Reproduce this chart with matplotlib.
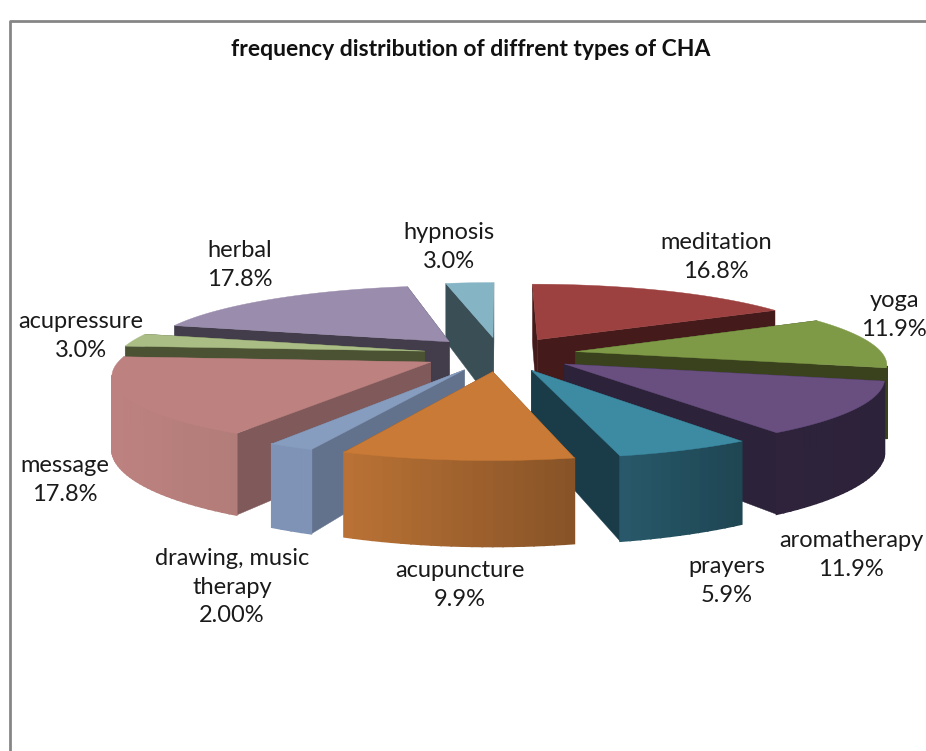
# frequency distribution of CHA types - exploded 3D pie
import numpy as np
import matplotlib
matplotlib.use("Agg")
import matplotlib.pyplot as plt

categorias = ["meditation", "yoga", "aromatherapy", "prayers", "acupuncture",
              "drawing, music\ntherapy", "message", "acupressure", "herbal", "hypnosis"]
valores = [16.8, 11.9, 11.9, 5.9, 9.9, 2.0, 17.8, 3.0, 17.8, 3.0]
etiquetas_pct = ["16.8%", "11.9%", "11.9%", "5.9%", "9.9%", "2.00%", "17.8%", "3.0%", "17.8%", "3.0%"]

# estilo por porcion: tapa, cara radial, pared izquierda/derecha en pantalla
col_tapa = ["#9C4040", "#7E9A47", "#684F80", "#3D8AA3", "#C97A36",
            "#879DBF", "#BD8280", "#AABD85", "#9A8CAD", "#85B4C5"]
col_cara = ["#451A1A", "#3A421D", "#2C2239", "#1A3C49", "#7A4A22",
            "#63728C", "#80595A", "#4A5233", "#423C4B", "#3A4E56"]
col_pared = [("#451A1A", "#451A1A"), ("#3A421D", "#3A421D"), ("#2E233B", "#2C2239"),
             ("#28596A", "#1E4552"), ("#BA7235", "#875327"), ("#7E93B5", "#7E93B5"),
             ("#BD8280", "#B27C78"), ("#4A5233", "#4A5233"), ("#423C4B", "#423C4B"),
             ("#3A4E56", "#3A4E56")]
pos_etiqueta = [(716, 257), (894, 315), (851, 555), (727, 581), (460, 585),
                (232, 587), (65, 480), (81, 336), (240, 265), (449, 247)]
orden = [0, 9, 8, 7, 1, 6, 2, 5, 3, 4]  # de atras hacia adelante

# camara
cx, cy = 500.0, 354.0
k, incl, persp = 307.0, 0.223, 0.158
alto = 69.0
explosion = 0.25


def proyectar(x, y, z=0.0):
    s = 1.0 / (1.0 - persp * y)
    return cx + k * x * s, cy + k * incl * y * s + alto * z * s


def area(p):
    p = np.array(p)
    a, b = p[:, 0], p[:, 1]
    return 0.5 * np.sum(a * np.roll(b, -1) - np.roll(a, -1) * b)


def mezcla(c1, c2, t):
    a = np.array(matplotlib.colors.to_rgb(c1))
    b = np.array(matplotlib.colors.to_rgb(c2))
    return a + (b - a) * t


fig = plt.figure(figsize=(9.26, 7.51), dpi=100)
ax = fig.add_axes([0, 0, 1, 1])
ax.set_xlim(0, 926)
ax.set_ylim(751, 0)
ax.axis("off")

# marco del grafico
ax.plot([9.5, 9.5, 926], [751, 21, 21], color="#868686", lw=2.0)

fracciones = np.array(valores) / np.sum(valores) * 2 * np.pi
inicios = np.concatenate([[0], np.cumsum(fracciones)[:-1]])

for n, i in enumerate(orden):
    t0, t1 = inicios[i], inicios[i] + fracciones[i]
    medio = (t0 + t1) / 2
    ax0, ay0 = explosion * np.sin(medio), -explosion * np.cos(medio)
    angulos = np.linspace(t0, t1, max(int(fracciones[i] * 40), 4))
    xs = ax0 + np.sin(angulos)
    ys = ay0 - np.cos(angulos)

    # caras radiales
    for xb, yb in [(xs[0], ys[0]), (xs[-1], ys[-1])]:
        cara = [proyectar(ax0, ay0), proyectar(xb, yb), proyectar(xb, yb, 1), proyectar(ax0, ay0, 1)]
        ax.fill(*zip(*cara), color=col_cara[i], lw=0.3, zorder=n * 10 + 1)

    # pared exterior, solo lo que mira a la camara
    arco = [proyectar(a, b) for a, b in zip(xs, ys)]
    xmin, xmax = min(p[0] for p in arco), max(p[0] for p in arco)
    for j in range(len(xs) - 1):
        quad = [proyectar(xs[j], ys[j]), proyectar(xs[j + 1], ys[j + 1]),
                proyectar(xs[j + 1], ys[j + 1], 1), proyectar(xs[j], ys[j], 1)]
        if area(quad) > 0:
            continue
        t = ((quad[0][0] + quad[1][0]) / 2 - xmin) / max(xmax - xmin, 1)
        # un poco de borde para que no se vean costuras
        ax.fill(*zip(*quad), color=mezcla(col_pared[i][0], col_pared[i][1], t), lw=1.2,
                zorder=n * 10 + 2)

    # tapa
    tapa = [proyectar(ax0, ay0)] + arco
    ax.fill(*zip(*tapa), color=col_tapa[i], lw=0.3, zorder=n * 10 + 3)

fuente = "Lato"
for nombre, pct, (px, py) in zip(categorias, etiquetas_pct, pos_etiqueta):
    ax.text(px, py, nombre + "\n" + pct, ha="center", va="center", fontsize=17,
            family=fuente, color="#1a1a1a", linespacing=1.45, zorder=500)

ax.text(471, 50, "frequency distribution of diffrent types of CHA", ha="center", va="center",
        fontsize=16.5, fontweight="bold", family=fuente, color="#111111", zorder=500)

fig.savefig("out.png", dpi=100)
